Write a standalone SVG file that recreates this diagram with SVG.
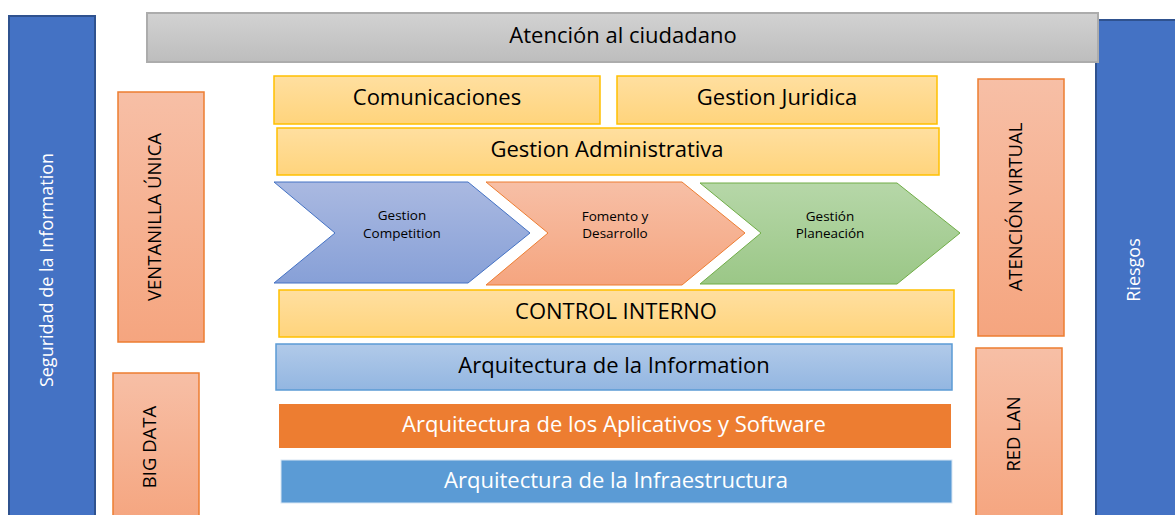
<svg xmlns="http://www.w3.org/2000/svg" width="1175" height="515" viewBox="0 0 1175 515">
<defs>
<linearGradient id="gGray" x1="0" y1="0" x2="0" y2="1"><stop offset="0" stop-color="#d2d2d2"/><stop offset="1" stop-color="#bdbdbd"/></linearGradient>
<linearGradient id="gYel" x1="0" y1="0" x2="0" y2="1"><stop offset="0" stop-color="#ffdfa0"/><stop offset="1" stop-color="#ffd47c"/></linearGradient>
<linearGradient id="gOr" x1="0" y1="0" x2="0" y2="1"><stop offset="0" stop-color="#f7bfa6"/><stop offset="1" stop-color="#f5a57f"/></linearGradient>
<linearGradient id="gBl" x1="0" y1="0" x2="0" y2="1"><stop offset="0" stop-color="#aab9e1"/><stop offset="1" stop-color="#87a0d7"/></linearGradient>
<linearGradient id="gGr" x1="0" y1="0" x2="0" y2="1"><stop offset="0" stop-color="#b6d7a8"/><stop offset="1" stop-color="#9bc787"/></linearGradient>
<linearGradient id="gLb" x1="0" y1="0" x2="0" y2="1"><stop offset="0" stop-color="#b1cae9"/><stop offset="1" stop-color="#93b6e1"/></linearGradient>
</defs>
<style>
text{font-family:"Open Sans","Liberation Sans",sans-serif;text-anchor:middle;dominant-baseline:central}
.side{fill:#4472c4;stroke:#2f528f;stroke-width:2}
.gray{fill:url(#gGray);stroke:#acacac;stroke-width:2}
.yel{fill:url(#gYel);stroke:#ffc000;stroke-width:1.5}
.orv{fill:url(#gOr);stroke:#ed7d31;stroke-width:1.5}
.lb{fill:url(#gLb);stroke:#5b9bd5;stroke-width:1.5}
.t{font-size:22px;fill:#000}
.tw{font-size:22px;fill:#fff}
.tsw{font-size:18px;fill:#fff}
.tv{font-size:18.5px;fill:#000}
.ts{font-size:13.5px;fill:#000}
</style>
<g id="seguridad"><rect class="side" x="9" y="16" width="86" height="510"/><text class="tsw" transform="translate(46,270) rotate(-90)">Seguridad de la Information</text></g>
<g id="riesgos"><rect class="side" x="1096" y="20" width="90" height="510"/><text class="tsw" transform="translate(1133,270) rotate(-90)">Riesgos</text></g>
<g id="atencion-ciudadano"><rect class="gray" x="147" y="13" width="951" height="49"/><text class="t" x="623" y="33.5">Atención al ciudadano</text></g>
<g id="ventanilla"><rect class="orv" x="118" y="92" width="86" height="250"/><text class="tv" transform="translate(153,217) rotate(-90)">VENTANILLA ÚNICA</text></g>
<g id="bigdata"><rect class="orv" x="113" y="373" width="86" height="150"/><text class="tv" transform="translate(148,447) rotate(-90)">BIG DATA</text></g>
<g id="atencion-virtual"><rect class="orv" x="978" y="79" width="86" height="257"/><text class="tv" transform="translate(1014,207) rotate(-90)">ATENCIÓN VIRTUAL</text></g>
<g id="redlan"><rect class="orv" x="976" y="348" width="86" height="175"/><text class="tv" transform="translate(1012,434) rotate(-90)">RED LAN</text></g>
<g id="comunicaciones"><rect class="yel" x="274" y="76" width="326" height="48"/><text class="t" x="437" y="95.5">Comunicaciones</text></g>
<g id="juridica"><rect class="yel" x="617" y="76" width="320" height="48"/><text class="t" x="777" y="95.5">Gestion Juridica</text></g>
<g id="administrativa"><rect class="yel" x="277" y="128" width="662" height="47"/><text class="t" x="607" y="147.5">Gestion Administrativa</text></g>
<g id="competition"><polygon points="274,182 468,182 530,233 468,283 274,283 335,233" fill="url(#gBl)" stroke="#4472c4" stroke-width="1"/><text class="ts" x="402" y="215">Gestion</text><text class="ts" x="402" y="233">Competition</text></g>
<g id="fomento"><polygon points="486,182 682,182 745,233 682,285 486,285 548,233" fill="url(#gOr)" stroke="#ed7d31" stroke-width="1"/><text class="ts" x="615" y="216">Fomento y</text><text class="ts" x="615" y="233">Desarrollo</text></g>
<g id="planeacion"><polygon points="700,183 897,183 960,233 897,284 700,284 761,233" fill="url(#gGr)" stroke="#70ad47" stroke-width="1"/><text class="ts" x="830" y="216">Gestión</text><text class="ts" x="830" y="233">Planeación</text></g>
<g id="control"><rect class="yel" x="279" y="290" width="675" height="47"/><text class="t" x="616" y="309.5">CONTROL INTERNO</text></g>
<g id="arq-info"><rect class="lb" x="276" y="344" width="676" height="46"/><text class="t" x="614" y="363.5">Arquitectura de la Information</text></g>
<g id="arq-apps"><rect x="279" y="404" width="672" height="44" fill="#ed7d31"/><text class="tw" x="614" y="422.5">Arquitectura de los Aplicativos y Software</text></g>
<g id="arq-infra"><rect x="281" y="460" width="671" height="43" fill="#5b9bd5" stroke="#d8e6f4" stroke-width="1"/><text class="tw" x="616" y="478.5">Arquitectura de la Infraestructura</text></g>
<g id="connectors"/>
</svg>
